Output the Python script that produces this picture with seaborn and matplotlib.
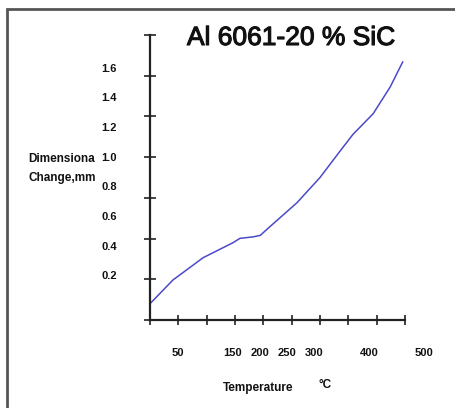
import numpy as np
import matplotlib
matplotlib.use("Agg")
import matplotlib.pyplot as plt
import matplotlib.transforms as mtransforms
import matplotlib.patheffects as pe
from matplotlib.patches import Rectangle
import seaborn as sns

# Data
temperature = [0, 42, 97, 151, 164, 188, 201, 219, 268, 310, 347, 370, 407, 419, 438, 461]
dim_change = [0.01, 0.17, 0.32, 0.42, 0.45, 0.46, 0.47, 0.53, 0.69, 0.86, 1.04, 1.15, 1.29, 1.36, 1.47, 1.64]

y_ticks = [0.2, 0.4, 0.6, 0.8, 1.0, 1.2, 1.4, 1.6]
y_tick_labels = ["0.2", "0.4", "0.6", "0.8", "1.0", "1.2", "1.4", "1.6"]
x_ticks = [50, 150, 200, 250, 300, 400, 500]
x_tick_labels = ["50", "150", "200", "250", "300", "400", "500"]

sns.set_style("white")
plt.rcParams['font.family'] = ['Liberation Sans', 'DejaVu Sans']
plt.rcParams['text.color'] = "#111111"
plt.rcParams['ytick.color'] = "#111111"

fig = plt.figure(figsize=(4.56, 4.08), dpi=100)
ax = fig.add_axes([150 / 456, 88 / 408, 255 / 456, 285 / 408])

sns.lineplot(x=temperature, y=dim_change, ax=ax, color="#4a4ac8", linewidth=1.1)

xmin, xmax = 0, 465
ymin, ymax = -0.1, 1.82
ax.set_xlim(xmin, xmax)
ax.set_ylim(ymin, ymax)

for s in ["top", "right"]:
    ax.spines[s].set_visible(False)
for s in ["left", "bottom"]:
    ax.spines[s].set_color("#222222")
    ax.spines[s].set_linewidth(1.6)

# tick marks crossing the axes, evenly spaced
ax.set_xticks(np.linspace(xmin, xmax, 10), minor=True)
ax.set_yticks(np.linspace(ymin, ymax, 8), minor=True)
ax.tick_params(axis="x", which="minor", bottom=True, direction="inout", length=7,
               width=1.2, color="#222222")
ax.tick_params(axis="y", which="minor", left=True, direction="inout", length=9,
               width=1.2, color="#222222")

ax.set_yticks(y_ticks)
ax.set_yticklabels(y_tick_labels, fontsize=8, fontweight="bold")
ax.tick_params(axis="y", which="major", length=0, pad=24)
ax.set_xticks([])

trans = mtransforms.blended_transform_factory(ax.transData, fig.transFigure)
for t, lab in zip(x_ticks, x_tick_labels):
    ax.text(t, 1 - 353 / 408, lab, transform=trans, ha="center", va="center",
            fontsize=8, fontweight="bold", clip_on=False)

fig.text(258 / 456, 1 - 388 / 408, "Temperature", ha="center", va="center",
         fontsize=8.5, fontweight="bold")
fig.text(325 / 456, 1 - 385 / 408, "°C", ha="center", va="center",
         fontsize=8.5, fontweight="bold")
fig.text(62 / 456, 1 - 159 / 408, "Dimensiona", ha="center", va="center",
         fontsize=8.5, fontweight="bold")
fig.text(62 / 456, 1 - 178 / 408, "Change,mm", ha="center", va="center",
         fontsize=8.5, fontweight="bold")

fig.text(291 / 456, 1 - 38 / 408, "Al 6061-20 % SiC", ha="center", va="center",
         fontsize=19, color="#111111",
         path_effects=[pe.withStroke(linewidth=0.8, foreground="#111111")])

# frame of the scanned figure (right and bottom edges fall outside the image)
fig.add_artist(Rectangle((7 / 456, -0.2), 1.2, 1.2 - 9 / 408, transform=fig.transFigure,
                         fill=False, edgecolor="#555555", linewidth=2))

fig.savefig("out.png", dpi=100)
